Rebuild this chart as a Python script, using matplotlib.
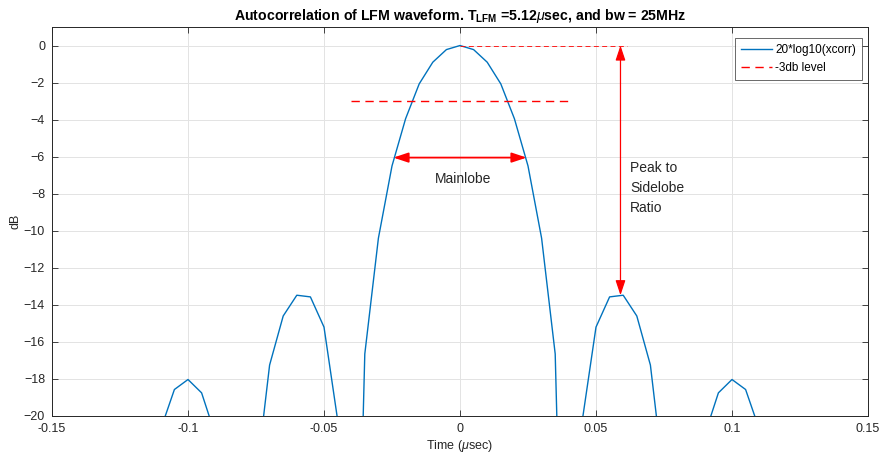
import numpy as np
import matplotlib
matplotlib.use("Agg")
import matplotlib.pyplot as plt

# sample index k -> time = k*0.005 usec (k = -30..30)
k_index = list(range(-30, 31))
db_right = [  # k = 0..30
    0.0, -0.22, -0.9, -2.07, -3.95, -6.5, -10.4, -16.65, -45.0, -20.2,
    -15.2, -13.57, -13.48, -14.6, -17.25, -23.5, -40.0, -24.8, -21.0, -18.75,
    -18.03, -18.57, -20.7, -27.5, -40.0, -28.2, -24.0, -22.0, -21.5, -22.5, -26.0,
]
db_left = db_right[:0:-1]   # mirrored values k=-30..-1 (read as symmetric)
xcorr_db = db_left + db_right
time_us = [k * 0.005 for k in k_index]

xticks = [-0.15, -0.1, -0.05, 0, 0.05, 0.1, 0.15]
xtick_labels = ["-0.15", "-0.1", "-0.05", "0", "0.05", "0.1", "0.15"]
yticks = list(range(-20, 1, 2))

level3_x = [-0.04, 0.0405]
level3_y = [-3, -3]
peak_x = [0.0, 0.0615]
peak_y = [0, 0]

plt.rcParams['font.family'] = ['Liberation Sans', 'DejaVu Sans']
plt.rcParams['mathtext.fontset'] = 'custom'
plt.rcParams['mathtext.rm'] = 'Liberation Sans'
plt.rcParams['mathtext.it'] = 'Liberation Sans:italic'
plt.rcParams['mathtext.bf'] = 'Liberation Sans:bold'

fig = plt.figure(figsize=(8.85, 4.62), dpi=100)
ax = fig.add_axes([52/885, 46/462, (868-52)/885, (416-27)/462])

blue = '#0072BD'
ax.plot(time_us, xcorr_db, color=blue, lw=1.0, label='20*log10(xcorr)')
ax.plot(level3_x, level3_y, color='red', lw=1.0, ls=(0, (6, 4)), label='-3db level')
ax.plot(peak_x, peak_y, color='red', lw=0.6, ls=(0, (6, 4)))

ax.set_xlim(-0.15, 0.15)
ax.set_ylim(-20, 1)
ax.set_xticks(xticks)
ax.set_xticklabels(xtick_labels)
ax.set_yticks(yticks)
ax.grid(True, color='#e3e3e3', lw=0.7)
ax.set_axisbelow(True)
ax.tick_params(direction='in', top=True, right=True, length=4, width=0.6,
               colors='#262626', labelsize=9, pad=5)
for s in ax.spines.values():
    s.set_color('#262626')
    s.set_linewidth(0.7)

ax.set_xlabel(r'Time ($\mu$sec)', fontsize=9, color='#262626', labelpad=2)
ax.set_ylabel('dB', fontsize=9, color='#262626', labelpad=2)
ax.set_title(r'Autocorrelation of LFM waveform. T$_{\mathbf{LFM}}$ =5.12$\mu$sec, and bw = 25MHz',
             fontsize=10.2, fontweight='bold', color='black', pad=5)

# Mainlobe arrow
ax.annotate('', xy=(-0.0245, -6.05), xytext=(0.0245, -6.05),
            arrowprops=dict(arrowstyle='<|-|>,head_length=0.9,head_width=0.3',
                            color='red', lw=1.3, shrinkA=0, shrinkB=0))
ax.text(0.001, -7.2, 'Mainlobe', fontsize=10, ha='center', va='center', color='#262626')

# Peak to sidelobe arrow
ax.annotate('', xy=(0.059, 0.0), xytext=(0.059, -13.48),
            arrowprops=dict(arrowstyle='<|-|>,head_length=0.9,head_width=0.3',
                            color='red', lw=0.9, shrinkA=0, shrinkB=0))
ax.text(0.0625, -7.7, 'Peak to\nSidelobe\nRatio', fontsize=10, ha='left', va='center',
        color='#262626', linespacing=1.55)

leg = ax.legend(loc='upper right', bbox_to_anchor=(862/885, 424/462),
                bbox_transform=fig.transFigure, fontsize=8.5, frameon=True,
                fancybox=False, handlelength=2.6, borderpad=0.5, labelspacing=0.55,
                handletextpad=0.3, borderaxespad=0.0)
leg.get_frame().set_edgecolor('#262626')
leg.get_frame().set_linewidth(0.6)

fig.savefig('out.png', dpi=100)
